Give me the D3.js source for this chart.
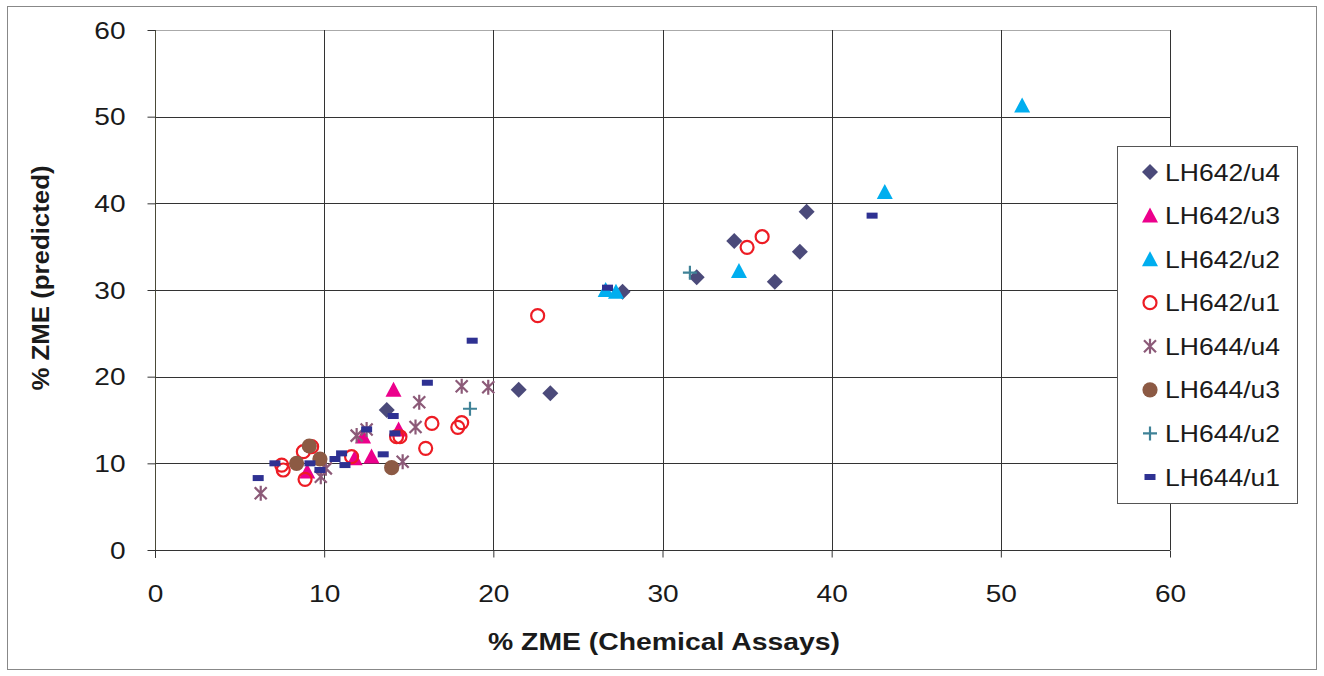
<!DOCTYPE html>
<html><head><meta charset="utf-8">
<script src="https://cdn.jsdelivr.net/npm/d3@7"></script>
<style>body{margin:0;background:#fff}svg{display:block}text{font-family:"Liberation Sans",Arial,sans-serif;fill:#1a1a1a}</style>
</head><body><svg id="c" width="1324" height="676"></svg>
<script>
// ---- data ----
const xTicks = [0,10,20,30,40,50,60];
const yTicks = [0,10,20,30,40,50,60];
const xTitle = "% ZME (Chemical Assays)";
const yTitle = "% ZME (predicted)";
const seriesNames = ["LH642/u4","LH642/u3","LH642/u2","LH642/u1","LH644/u4","LH644/u3","LH644/u2","LH644/u1"];
const lh642u4 = [[13.7,16.15],[21.5,18.5],[23.37,18.08],[27.64,29.8],[32.02,31.46],[34.24,35.65],[36.64,30.96],[38.12,34.42],[38.52,39.04]];
const lh642u3 = [[14.1,18.5],[14.4,13.9],[12.3,13.1],[11.8,10.6],[12.8,10.8],[9.0,9.05]];
const lh642u2 = [[26.64,30.0],[27.25,29.8],[34.52,32.2],[43.14,41.3],[51.26,51.3]];
const lh642u1 = [[8.77,11.34],[9.26,11.92],[7.49,9.8],[7.58,9.23],[8.87,8.15],[11.62,10.77],[14.28,13.07],[14.48,13.07],[16.37,14.6],[18.13,14.7],[17.9,14.15],[16.0,11.73],[22.62,27.04],[35.0,34.92],[35.89,36.15]];
const lh644u4 = [[6.25,6.54],[9.8,8.46],[10.1,9.42],[11.92,13.2],[12.51,13.9],[15.4,14.2],[15.62,17.04],[18.13,18.9],[19.7,18.77],[14.64,10.19]];
const lh644u3 = [[9.12,12.0],[8.37,10.0],[9.75,10.5],[13.99,9.5]];
const lh644u2 = [[18.62,16.3],[31.62,32.0]];
const lh644u1 = [[6.1,8.3],[7.09,10.0],[9.16,10.0],[9.75,9.23],[10.64,10.5],[11.03,11.15],[11.23,9.8],[13.49,11.04],[12.51,13.92],[14.08,15.46],[14.18,13.46],[16.1,19.3],[18.75,24.15],[26.75,30.27],[42.39,38.58]];

// ---- styles ----
const seriesData = [lh642u4,lh642u3,lh642u2,lh642u1,lh644u4,lh644u3,lh644u2,lh644u1];
const styles = [
  {shape:"diamond", color:"#4b4a7a"},
  {shape:"triangle", color:"#ec008c"},
  {shape:"triangle", color:"#00aeef"},
  {shape:"ocircle", color:"#ed1c24"},
  {shape:"star", color:"#8c5a78"},
  {shape:"circle", color:"#8c5a44"},
  {shape:"plus", color:"#3f8297"},
  {shape:"rect", color:"#2e3192"}
];

const svg = d3.select("#c");
const L=155, R=1170, T=30, B=550;
const x = d3.scaleLinear().domain([0,60]).range([L,R]);
const y = d3.scaleLinear().domain([0,60]).range([B,T]);

// outer frame
svg.append("rect").attr("x",7.5).attr("y",6.5).attr("width",1309).attr("height",663)
  .attr("fill","none").attr("stroke","#888").attr("stroke-width",1);

// gridlines
const g = svg.append("g");
g.selectAll(".hg").data(yTicks.filter(d=>d>0)).join("line")
  .attr("x1",L).attr("x2",R).attr("y1",d=>Math.round(y(d))+0.5).attr("y2",d=>Math.round(y(d))+0.5)
  .attr("stroke",d=>d===60?"#aaa":"#333").attr("stroke-width",1);
g.selectAll(".vg").data(xTicks.filter(d=>d>0)).join("line")
  .attr("y1",T).attr("y2",B).attr("x1",d=>Math.round(x(d))+0.5).attr("x2",d=>Math.round(x(d))+0.5)
  .attr("stroke","#333").attr("stroke-width",1);

// axes
const ya = svg.append("g").attr("transform",`translate(${L+0.5},0)`)
  .call(d3.axisLeft(y).tickValues(yTicks).tickSize(8).tickFormat(d3.format("d")));
ya.select(".domain").attr("stroke","#4a4a38").attr("d",`M0,${T}V${B+8}`);
ya.selectAll(".tick line").attr("stroke","#333");
ya.selectAll(".tick text").attr("x",null).attr("dy",null).attr("y",null)
  .attr("font-size",24).attr("text-anchor","end").attr("dominant-baseline","central")
  .attr("transform","translate(-30,0) scale(1.17,1)").attr("fill","#1a1a1a");

const xa = svg.append("g").attr("transform",`translate(0,${B+0.5})`)
  .call(d3.axisBottom(x).tickValues(xTicks).tickSize(7).tickFormat(d3.format("d")));
xa.select(".domain").attr("stroke","#333").attr("d",`M${L},0H${R}`);
xa.selectAll(".tick line").attr("stroke","#333");
xa.selectAll(".tick text").attr("y",null).attr("dy",null)
  .attr("font-size",24).attr("text-anchor","middle").attr("dominant-baseline","central")
  .attr("transform","translate(0,43) scale(1.17,1)").attr("fill","#1a1a1a");

// titles
svg.append("text").attr("x",664).attr("y",650).attr("text-anchor","middle")
  .attr("font-size",23).attr("font-weight","bold").attr("textLength",352).attr("lengthAdjust","spacingAndGlyphs")
  .text(xTitle);
svg.append("text").attr("transform","translate(49,278) rotate(-90)").attr("text-anchor","middle")
  .attr("font-size",24).attr("font-weight","bold").attr("textLength",225).attr("lengthAdjust","spacingAndGlyphs")
  .text(yTitle);

// marker drawing
function drawMarker(sel, st){
  const c = st.color;
  switch(st.shape){
    case "diamond":
      sel.append("path").attr("d","M0,-8L8,0L0,8L-8,0Z").attr("fill",c); break;
    case "triangle":
      sel.append("path").attr("d","M0,-8L8,7L-8,7Z").attr("fill",c); break;
    case "ocircle":
      sel.append("circle").attr("r",6.5).attr("fill","none").attr("stroke",c).attr("stroke-width",2.2); break;
    case "circle":
      sel.append("circle").attr("r",7.6).attr("fill",c); break;
    case "star":
      sel.append("path").attr("d","M0,-7.5V7.5M-6,-6L6,6M-6,6L6,-6").attr("stroke",c).attr("stroke-width",2.2).attr("fill","none"); break;
    case "plus":
      sel.append("path").attr("d","M0,-7V7M-7,0H7").attr("stroke",c).attr("stroke-width",2.2).attr("fill","none"); break;
    case "rect":
      sel.append("rect").attr("x",-5.5).attr("y",-3).attr("width",11).attr("height",6).attr("fill",c); break;
  }
}

// points
seriesData.forEach((data,i)=>{
  const gs = svg.append("g");
  data.forEach(p=>{
    const m = gs.append("g").attr("transform",`translate(${x(p[0])},${y(p[1])})`);
    drawMarker(m, styles[i]);
  });
});

// legend
const lg = svg.append("g");
lg.append("rect").attr("x",1117.5).attr("y",146.5).attr("width",180).attr("height",357)
  .attr("fill","#fff").attr("stroke","#555").attr("stroke-width",1);
const legendY = d3.scalePoint().domain(seriesNames).range([172,477]);
seriesNames.forEach((n,i)=>{
  const m = lg.append("g").attr("transform",`translate(1150,${legendY(n)})`);
  drawMarker(m, styles[i]);
  lg.append("text").attr("x",1165).attr("y",legendY(n)+8.5).attr("font-size",24)
    .attr("textLength",115).attr("lengthAdjust","spacingAndGlyphs").text(n);
});
</script></body></html>
